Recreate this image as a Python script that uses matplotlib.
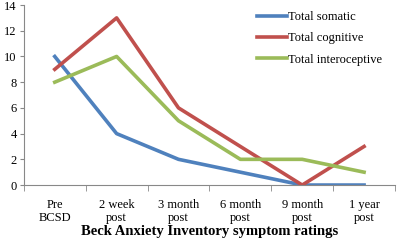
import matplotlib.pyplot as plt
import numpy as np

categories = ['Pre\nBCSD', '2 week\npost', '3 month\npost', '6 month\npost', '9 month\npost', '1 year\npost']
somatic = [10, 4, 2, 1, 0, 0]
cognitive = [9, 13, 6, 3, 0, 3]
interoceptive = [8, 10, 5, 2, 2, 1]

plt.rcParams['font.family'] = ['Liberation Serif', 'DejaVu Serif']

fig = plt.figure(figsize=(3.97, 2.4), dpi=100)
ax = fig.add_axes([0.06, 0.229, 0.935, 0.75])

x = np.arange(len(categories))
ax.plot(x, somatic, color='#4F81BD', lw=2.6, label='Total somatic')
ax.plot(x, cognitive, color='#C0504D', lw=2.6, label='Total cognitive')
ax.plot(x, interoceptive, color='#9BBB59', lw=2.6, label='Total interoceptive')

ax.set_xlim(-0.5, len(categories) - 0.5)
ax.set_ylim(0, 14)
ax.set_yticks(range(0, 15, 2))
ax.set_xticks(x)
ax.set_xticklabels(categories, fontsize=9, linespacing=1.1)
ax.set_xticks(np.arange(-0.5, len(categories), 1), minor=True)
ax.tick_params(axis='x', which='major', length=0, pad=10)
ax.tick_params(axis='x', which='minor', length=4, color='#888888')
ax.tick_params(axis='y', length=3, color='#888888', labelsize=9, pad=2)

for s in ['top', 'right']:
    ax.spines[s].set_visible(False)
ax.spines['left'].set_color('#888888')
ax.spines['bottom'].set_color('#888888')

ax.set_xlabel('Beck Anxiety Inventory symptom ratings', fontsize=10.5, fontweight='bold', labelpad=1)

ax.legend(loc='upper right', bbox_to_anchor=(0.995, 1.03), frameon=False, fontsize=9,
          handlelength=2.4, handletextpad=0.05, labelspacing=0.75)

fig.savefig('out.png', dpi=100)
